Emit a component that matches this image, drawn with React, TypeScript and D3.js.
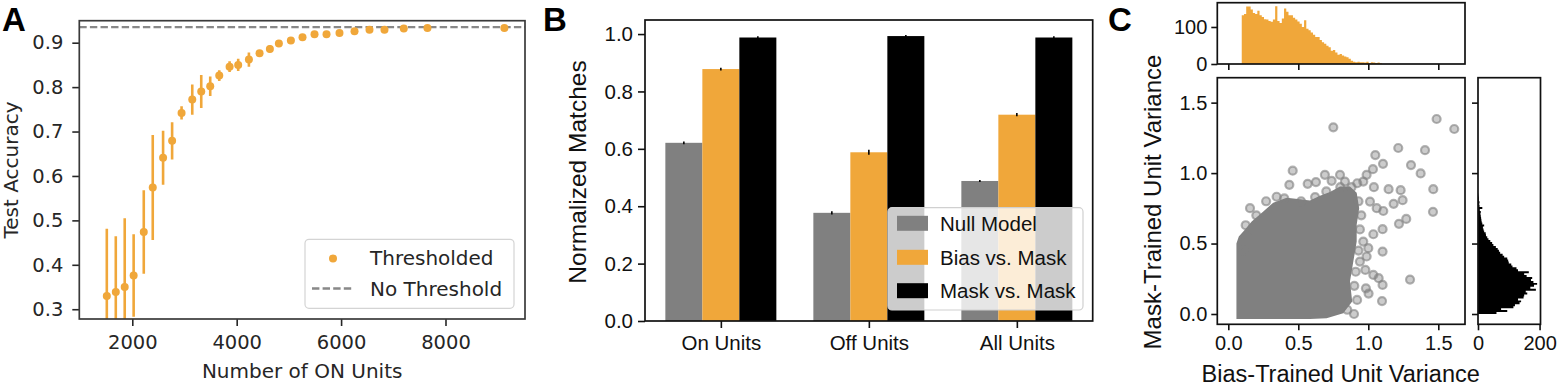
import React, { useRef, useEffect } from 'react';
import * as d3 from 'd3';

// ---- Panel A: test accuracy vs number of ON units ----
const onUnits = [1512, 1684, 1855, 2026, 2220, 2392, 2590, 2763, 2944, 3149, 3321, 3493, 3666, 3864, 4029, 4234, 4438, 4636, 4808, 5038, 5261, 5491, 5721, 5969, 6257, 6544, 6831, 7201, 7654, 9128];
const accuracy = [0.330, 0.339, 0.350, 0.376, 0.474, 0.574, 0.641, 0.679, 0.742, 0.772, 0.790, 0.802, 0.826, 0.846, 0.850, 0.862, 0.876, 0.886, 0.898, 0.905, 0.912, 0.919, 0.919, 0.922, 0.926, 0.929, 0.929, 0.932, 0.933, 0.933];
const accuracyErr = [0.151, 0.125, 0.155, 0.093, 0.094, 0.118, 0.061, 0.042, 0.015, 0.034, 0.037, 0.022, 0.012, 0.012, 0.014, 0.016, 0.006, 0.008, 0.004, 0.003, 0.003, 0.003, 0.002, 0.003, 0.003, 0.002, 0.002, 0.002, 0.002, 0.002];
const noThresholdAcc = 0.935;
const accXTicks = [2000, 4000, 6000, 8000];
const accYTicks = [0.3, 0.4, 0.5, 0.6, 0.7, 0.8, 0.9];

// ---- Panel B: normalized matches ----
const unitGroups = ['On Units', 'Off Units', 'All Units'];
const matchSeries = ['Null Model', 'Bias vs. Mask', 'Mask vs. Mask'];
const nullModel = [0.621, 0.377, 0.488];
const biasVsMask = [0.878, 0.588, 0.719];
const maskVsMask = [0.988, 0.993, 0.988];
const nullErr = [0.002, 0.003, 0.001];
const biasErr = [0.002, 0.006, 0.003];
const maskErr = [0.002, 0.001, 0.002];
const matchYTicks = [0, 0.2, 0.4, 0.6, 0.8, 1.0];

// ---- Panel C: unit variances ----
const biasHistStart = 0.096;
const biasHistWidth = 0.0159;
const biasHistCounts = [132, 135, 155, 155, 147, 138, 135, 144, 132, 127, 121, 120, 116, 114, 120, 156, 116, 111, 123, 150, 141, 132, 132, 125, 120, 115, 109, 100, 118, 95, 91, 85, 79, 73, 73, 65, 59, 55, 49, 45, 36, 38, 31, 25, 27, 23, 20, 18, 14, 9, 6, 5, 6, 5, 5, 4, 6, 3, 5, 4, 3, 4, 2];
const maskHistStart = 0;
const maskHistWidth = 0.0138;
const maskHistCounts = [60, 95, 75, 115, 120, 135, 140, 130, 148, 150, 160, 155, 188, 170, 182, 192, 180, 172, 176, 158, 150, 165, 130, 125, 112, 108, 100, 98, 95, 85, 80, 72, 68, 64, 58, 50, 46, 40, 34, 30, 26, 25, 20, 18, 16, 20, 14, 12, 11, 10, 9, 8, 9, 6, 14, 5, 4, 5, 3, 3, 2, 1];
// outline of the saturated core of the scatter (bias var, mask var)
const cloudOutline = [
  [0.058, -0.036], [0.058, 0.50], [0.075, 0.55], [0.107, 0.585], [0.167, 0.656], [0.25, 0.727],
  [0.321, 0.790], [0.417, 0.825], [0.512, 0.815], [0.583, 0.805], [0.655, 0.840], [0.726, 0.865],
  [0.798, 0.905], [0.869, 0.905], [0.917, 0.860], [0.935, 0.751], [0.917, 0.633], [0.917, 0.514],
  [0.893, 0.372], [0.869, 0.230], [0.885, 0.088], [0.821, 0.005], [0.702, -0.030], [0.583, -0.036]
];
// individual units outside the core
const scatterPoints = [
  [1.488, 1.384], [1.614, 1.313], [0.750, 1.325], [1.214, 1.178], [1.405, 1.163], [1.050, 1.128], [1.105, 1.066],
  [1.305, 1.057], [1.374, 0.998], [0.460, 1.017], [0.436, 0.917], [1.464, 0.886], [1.462, 0.725], [1.145, 0.886],
  [1.231, 0.879], [1.245, 0.808], [1.181, 0.782], [1.271, 0.675], [1.219, 0.640], [1.298, 0.244], [1.098, 0.092],
  [0.898, 0.000], [1.102, 0.206], [1.002, 0.145], [0.983, 0.182], [1.074, 0.254], [1.102, 0.443], [1.036, 0.566],
  [1.102, 0.602], [0.690, 0.988], [0.798, 0.988], [0.567, 0.924], [0.626, 0.936], [0.738, 0.945], [0.833, 0.940],
  [0.155, 0.751], [0.124, 0.630], [0.345, 0.832], [1.033, 1.028], [0.988, 0.988], [0.964, 0.940], [1.040, 0.900],
  [0.921, 0.928], [1.107, 0.731], [1.060, 0.751], [1.012, 0.798], [0.979, 0.313], [1.036, 0.277], [0.964, 0.514],
  [1.000, 0.467], [0.940, 0.372], [0.988, 0.408], [0.27, 0.80], [0.40, 0.82], [0.52, 0.80], [0.62, 0.83],
  [0.70, 0.87], [0.80, 0.90], [0.88, 0.90], [0.93, 0.80], [0.95, 0.70], [0.94, 0.60], [0.93, 0.45], [0.91, 0.30],
  [0.90, 0.20], [0.92, 0.10], [0.85, 0.03], [0.20, 0.70], [0.13, 0.55], [0.11, 0.45]
];
const varTicks = [0, 0.5, 1.0, 1.5];
const biasCountTicks = [0, 100];
const maskCountTicks = [0, 200];

const ORANGE = '#F0A73A';
const GRAY = '#808080';
const DEJAVU = '"DejaVu Sans", sans-serif';
const ARIAL = '"Liberation Sans", Arial, sans-serif';

const styleAxis = (g, font, size, color, showText = true) => {
  g.attr('font-family', font).attr('font-size', size);
  g.select('.domain').remove();
  g.selectAll('.tick line').attr('stroke', color).attr('stroke-width', 1.6);
  g.selectAll('.tick text').attr('fill', color);
  if (!showText) g.selectAll('.tick text').remove();
};

const frame = (svg, x0, y0, x1, y1, color) => {
  svg.append('rect')
    .attr('x', x0).attr('y', y0)
    .attr('width', x1 - x0).attr('height', y1 - y0)
    .attr('fill', 'none')
    .attr('stroke', color)
    .attr('stroke-width', 1.7);
};

// step outline of a histogram: [edge, count] pairs
const stepPoints = (counts, start, width) => {
  const pts = [];
  counts.forEach((c, i) => {
    pts.push([start + i * width, c]);
    pts.push([start + (i + 1) * width, c]);
  });
  return pts;
};

const App = () => {
  const svgRef = useRef(null);

  useEffect(() => {
    const svg = d3.select(svgRef.current);
    svg.selectAll('*').remove();

    // panel letters
    [['A', 2], ['B', 543], ['C', 1108]].forEach(([t, x]) => {
      svg.append('text').attr('x', x).attr('y', 30.7)
        .attr('font-family', ARIAL).attr('font-weight', 'bold').attr('font-size', 33)
        .attr('fill', '#000').text(t);
    });

    // ================= Panel A =================
    const aL = 79.3, aR = 525, aT = 20.7, aB = 319;
    const xA = d3.scaleLinear().domain([985, 9523]).range([aL, aR]);
    const yA = d3.scaleLinear().domain([0.278, 0.9495]).range([aB, aT]);
    const textA = '#262626';

    svg.append('clipPath').attr('id', 'clipA')
      .append('rect').attr('x', aL).attr('y', aT).attr('width', aR - aL).attr('height', aB - aT);
    const plotA = svg.append('g').attr('clip-path', 'url(#clipA)');

    plotA.append('line')
      .attr('x1', aL).attr('x2', aR)
      .attr('y1', yA(noThresholdAcc)).attr('y2', yA(noThresholdAcc))
      .attr('stroke', '#888').attr('stroke-width', 2.4).attr('stroke-dasharray', '7.4,3.2');

    plotA.selectAll('.err').data(onUnits).join('line')
      .attr('x1', d => xA(d)).attr('x2', d => xA(d))
      .attr('y1', (d, i) => yA(accuracy[i] - accuracyErr[i]))
      .attr('y2', (d, i) => yA(accuracy[i] + accuracyErr[i]))
      .attr('stroke', ORANGE).attr('stroke-width', 2.6);

    plotA.selectAll('.dot').data(onUnits).join('circle')
      .attr('cx', d => xA(d)).attr('cy', (d, i) => yA(accuracy[i]))
      .attr('r', 4).attr('fill', ORANGE);

    const axAx = svg.append('g').attr('transform', `translate(0,${aB})`)
      .call(d3.axisBottom(xA).tickValues(accXTicks).tickSize(7).tickPadding(9).tickFormat(d3.format('d')));
    styleAxis(axAx, DEJAVU, 19.5, textA);
    const axAy = svg.append('g').attr('transform', `translate(${aL},0)`)
      .call(d3.axisLeft(yA).tickValues(accYTicks).tickSize(7).tickPadding(9).tickFormat(d3.format('.1f')));
    styleAxis(axAy, DEJAVU, 19.5, textA);
    frame(svg, aL, aT, aR, aB, '#3a3a3a');

    svg.append('text').attr('x', (aL + aR) / 2).attr('y', 378)
      .attr('text-anchor', 'middle').attr('font-family', DEJAVU).attr('font-size', 20)
      .attr('fill', textA).text('Number of ON Units');
    svg.append('text').attr('transform', `translate(18,170) rotate(-90)`)
      .attr('text-anchor', 'middle').attr('font-family', DEJAVU).attr('font-size', 20)
      .attr('fill', textA).text('Test Accuracy');

    // legend A
    const legA = svg.append('g');
    legA.append('rect').attr('x', 305).attr('y', 239.3).attr('width', 209).attr('height', 69)
      .attr('rx', 4).attr('fill', '#fff').attr('fill-opacity', 0.8)
      .attr('stroke', '#d4d4d4').attr('stroke-width', 1.2);
    legA.append('circle').attr('cx', 333).attr('cy', 258.5).attr('r', 4).attr('fill', ORANGE);
    legA.append('line').attr('x1', 312).attr('x2', 353).attr('y1', 288.5).attr('y2', 288.5)
      .attr('stroke', '#888').attr('stroke-width', 2.4).attr('stroke-dasharray', '7.4,3.2');
    [['Thresholded', 258], ['No Threshold', 289]].forEach(([t, y]) => {
      legA.append('text').attr('x', 370).attr('y', y).attr('dy', '0.36em')
        .attr('font-family', DEJAVU).attr('font-size', 20).attr('fill', textA).text(t);
    });

    // ================= Panel B =================
    const bL = 645, bR = 1092.7, bT = 20, bB = 321;
    const xB = d3.scaleLinear().domain([-0.5125, 2.5125]).range([bL, bR]);
    const yB = d3.scaleLinear().domain([0, 1.049]).range([bB, bT]);
    const barW = 0.25;
    const seriesVals = [nullModel, biasVsMask, maskVsMask];
    const seriesErr = [nullErr, biasErr, maskErr];
    const seriesCol = [GRAY, ORANGE, '#000'];

    seriesVals.forEach((vals, s) => {
      const off = (s - 1) * barW;
      svg.append('g').selectAll('rect').data(vals).join('rect')
        .attr('x', (d, i) => xB(i + off - barW / 2))
        .attr('width', xB(barW) - xB(0))
        .attr('y', d => yB(d))
        .attr('height', d => yB(0) - yB(d))
        .attr('fill', seriesCol[s]);
    });
    seriesVals.forEach((vals, s) => {
      const off = (s - 1) * barW;
      svg.append('g').selectAll('line').data(vals).join('line')
        .attr('x1', (d, i) => xB(i + off)).attr('x2', (d, i) => xB(i + off))
        .attr('y1', (d, i) => yB(d - seriesErr[s][i]) + 0.8)
        .attr('y2', (d, i) => yB(d + seriesErr[s][i]) - 0.8)
        .attr('stroke', '#000').attr('stroke-width', 1.6);
    });

    const axBx = svg.append('g').attr('transform', `translate(0,${bB})`)
      .call(d3.axisBottom(xB).tickValues([0, 1, 2]).tickSize(7).tickPadding(7)
        .tickFormat((d, i) => unitGroups[i]));
    styleAxis(axBx, ARIAL, 20.5, '#111');
    const axBy = svg.append('g').attr('transform', `translate(${bL},0)`)
      .call(d3.axisLeft(yB).tickValues(matchYTicks).tickSize(7).tickPadding(5).tickFormat(d3.format('.1f')));
    styleAxis(axBy, ARIAL, 20.5, '#111');

    // legend B (drawn before frame)
    const legB = svg.append('g');
    legB.append('rect').attr('x', 888).attr('y', 207.7).attr('width', 195).attr('height', 102.3)
      .attr('rx', 4).attr('fill', '#fff').attr('fill-opacity', 0.8)
      .attr('stroke', '#d0d0d0').attr('stroke-width', 1.2);
    [223.3, 257.3, 290.7].forEach((y, s) => {
      legB.append('rect').attr('x', 897).attr('y', y - 7.5).attr('width', 31).attr('height', 15)
        .attr('fill', seriesCol[s]);
      legB.append('text').attr('x', 940).attr('y', y).attr('dy', '0.36em')
        .attr('font-family', ARIAL).attr('font-size', 20.5).attr('fill', '#111').text(matchSeries[s]);
    });
    frame(svg, bL, bT, bR, bB, '#111');

    svg.append('text').attr('transform', `translate(586,172) rotate(-90)`)
      .attr('text-anchor', 'middle').attr('font-family', ARIAL).attr('font-size', 24.5)
      .attr('fill', '#111').text('Normalized Matches');

    // ================= Panel C =================
    const sL = 1217.3, sR = 1465, sT = 77.7, sB = 324.3;
    const xS = d3.scaleLinear().domain([-0.0786, 1.6907]).range([sL, sR]);
    const yS = d3.scaleLinear().domain([-0.0731, 1.677]).range([sB, sT]);

    svg.append('clipPath').attr('id', 'clipS')
      .append('rect').attr('x', sL).attr('y', sT).attr('width', sR - sL).attr('height', sB - sT);
    const plotS = svg.append('g').attr('clip-path', 'url(#clipS)');

    plotS.append('path')
      .datum(cloudOutline)
      .attr('d', d3.line().x(d => xS(d[0])).y(d => yS(d[1])).curve(d3.curveLinearClosed))
      .attr('fill', GRAY);
    plotS.selectAll('circle').data(scatterPoints).join('circle')
      .attr('cx', d => xS(d[0])).attr('cy', d => yS(d[1]))
      .attr('r', 4)
      .attr('fill', GRAY).attr('fill-opacity', 0.4)
      .attr('stroke', GRAY).attr('stroke-opacity', 0.6).attr('stroke-width', 2.2);

    const axSx = svg.append('g').attr('transform', `translate(0,${sB})`)
      .call(d3.axisBottom(xS).tickValues(varTicks).tickSize(6).tickPadding(6).tickFormat(d3.format('.1f')));
    styleAxis(axSx, ARIAL, 20, '#111');
    const axSy = svg.append('g').attr('transform', `translate(${sL},0)`)
      .call(d3.axisLeft(yS).tickValues(varTicks).tickSize(6).tickPadding(4).tickFormat(d3.format('.1f')));
    styleAxis(axSy, ARIAL, 20, '#111');
    frame(svg, sL, sT, sR, sB, '#111');

    // top histogram (bias-trained)
    const tT = 2.7, tB = 64;
    const yT = d3.scaleLinear().domain([0, 165.6]).range([tB, tT]);
    svg.append('path')
      .datum(stepPoints(biasHistCounts, biasHistStart, biasHistWidth))
      .attr('d', d3.area().x(d => xS(d[0])).y0(yT(0)).y1(d => yT(d[1])))
      .attr('fill', ORANGE);
    const axTx = svg.append('g').attr('transform', `translate(0,${tB})`)
      .call(d3.axisBottom(xS).tickValues(varTicks).tickSize(6));
    styleAxis(axTx, ARIAL, 20, '#111', false);
    const axTy = svg.append('g').attr('transform', `translate(${sL},0)`)
      .call(d3.axisLeft(yT).tickValues(biasCountTicks).tickSize(6).tickPadding(4));
    styleAxis(axTy, ARIAL, 20, '#111');
    frame(svg, sL, tT, sR, tB, '#111');

    // right histogram (mask-trained)
    const rL = 1478, rR = 1540.5;
    const xR = d3.scaleLinear().domain([0, 203]).range([rL, rR]);
    svg.append('path')
      .datum(stepPoints(maskHistCounts, maskHistStart, maskHistWidth))
      .attr('d', d3.area().y(d => yS(d[0])).x0(xR(0)).x1(d => xR(d[1])))
      .attr('fill', '#000');
    const axRx = svg.append('g').attr('transform', `translate(0,${sB})`)
      .call(d3.axisBottom(xR).tickValues(maskCountTicks).tickSize(6).tickPadding(6));
    styleAxis(axRx, ARIAL, 20, '#111');
    const axRy = svg.append('g').attr('transform', `translate(${rL},0)`)
      .call(d3.axisLeft(yS).tickValues(varTicks).tickSize(6));
    styleAxis(axRy, ARIAL, 20, '#111', false);
    frame(svg, rL, sT, rR, sB, '#111');

    svg.append('text').attr('x', 1340.7).attr('y', 382)
      .attr('text-anchor', 'middle').attr('font-family', ARIAL).attr('font-size', 23.5)
      .attr('fill', '#111').text('Bias-Trained Unit Variance');
    svg.append('text').attr('transform', `translate(1161,202) rotate(-90)`)
      .attr('text-anchor', 'middle').attr('font-family', ARIAL).attr('font-size', 24)
      .attr('fill', '#111').text('Mask-Trained Unit Variance');
  }, []);

  return (
    <svg
      ref={svgRef}
      width={1557}
      height={388}
      style={{ position: 'absolute', left: 0, top: 0, background: '#fff' }}
    />
  );
};

export default App;
